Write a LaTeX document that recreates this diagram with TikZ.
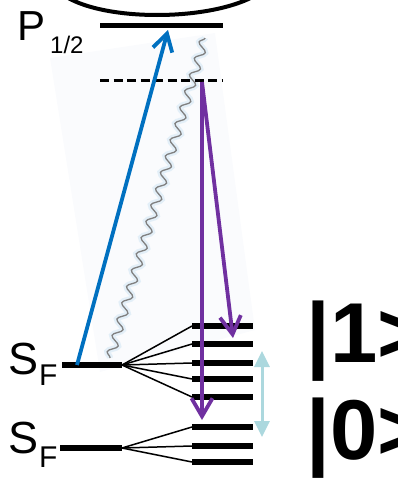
\documentclass[tikz,border=0pt]{standalone}
\usepackage{fontspec}
\setmainfont{Liberation Sans}
\usetikzlibrary{arrows.meta,decorations.pathmorphing}
\definecolor{ablue}{RGB}{0,112,192}
\definecolor{apurple}{RGB}{112,48,160}
\definecolor{acyan}{RGB}{172,216,222}
\definecolor{afaint}{RGB}{250,251,253}
\definecolor{aglow}{RGB}{218,234,246}
\begin{document}
\begin{tikzpicture}[x=1pt,y=-1pt,
  level/.style={line width=6pt},
  fan/.style={line width=1.5pt},
  lbl/.style={inner sep=0pt, anchor=base west},
  bluearr/.style={ablue, line width=3.8pt, -{Straight Barb[length=17pt,width=20pt]}},
  purparr/.style={apurple, line width=3.8pt, -{Straight Barb[length=18pt,width=21pt]}},
  cyanarr/.style={acyan, line width=3pt, {Triangle[length=16pt,width=15pt]}-{Triangle[length=16pt,width=15pt]}},
  photon/.style={decorate, decoration={snake, amplitude=4.5pt, segment length=17pt}}
]
\useasboundingbox (0,0) rectangle (398,482);
% faint background
\fill[afaint] (50,58) -- (215,33) -- (255,330) -- (100,372) -- cycle;
% top arc
\draw[line width=4pt] (62,-6) .. controls (100,22) and (212,22) .. (258,-6);
% photon
\coordinate (phA) at (110,358);
\coordinate (phB) at (205,38);
\draw[aglow, line width=6pt, opacity=0.7, photon] (phA) -- (phB);
\draw[gray, line width=1.3pt, photon] (phA) -- (phB);
% P level and virtual level
\coordinate (pL) at (100,25);
\coordinate (pR) at (223,25);
\draw[line width=5pt] (pL) -- (pR);
\coordinate (vL) at (100,80);
\coordinate (vR) at (223,80);
\draw[line width=3pt, dash pattern=on 9pt off 4.5pt] (vL) -- (vR);
% labels
\node[lbl, font=\fontsize{42}{42}\selectfont] (P) at (17,40) {P};
\node[lbl, font=\fontsize{24}{24}\selectfont] (Psub) at (50,53) {1/2};
\node[lbl, font=\fontsize{45}{45}\selectfont] (S1) at (8,374) {S};
\node[lbl, font=\fontsize{30}{30}\selectfont] (F1) at (39,385) {F};
\node[lbl, font=\fontsize{45}{45}\selectfont] (S2) at (8,453) {S};
\node[lbl, font=\fontsize{30}{30}\selectfont] (F2) at (39,467) {F};
% S_F levels
\coordinate (sU) at (62,365);
\coordinate (sUr) at (122,365);
\coordinate (sD) at (60,448);
\coordinate (sDr) at (122,448);
\draw[level] (sU) -- (sUr);
\draw[level] (sD) -- (sDr);
% hyperfine sublevels
\foreach \n/\y in {a/326,b/344,c/363,d/379,e/397}{
  \coordinate (u\n) at (192,\y);
  \draw[fan] (sUr) -- (u\n);
  \draw[level] (u\n) -- ++(61,0);
}
\foreach \n/\y in {a/427,b/446,c/462}{
  \coordinate (d\n) at (192,\y);
  \draw[fan] (sDr) -- (d\n);
  \draw[level] (d\n) -- ++(61,0);
}
% arrows
\coordinate (bS) at (77,365);
\coordinate (bE) at (168,30);
\draw[bluearr] (bS) -- (bE);
\coordinate (pS) at (202,82);
\coordinate (pE1) at (202,420);
\coordinate (pE2) at (233,338);
\draw[purparr] (pS) -- (pE1);
\draw[purparr] (pS) -- (pE2);
\coordinate (cT) at (262,351);
\coordinate (cB) at (262,437);
\draw[cyanarr] (cT) -- (cB);
% qubit labels
\node[lbl, font=\fontsize{85}{85}\selectfont\bfseries] (k1) at (306,362) {|1>};
\node[lbl, font=\fontsize{85}{85}\selectfont\bfseries] (k0) at (306,459) {|0>};
\end{tikzpicture}
\end{document}
